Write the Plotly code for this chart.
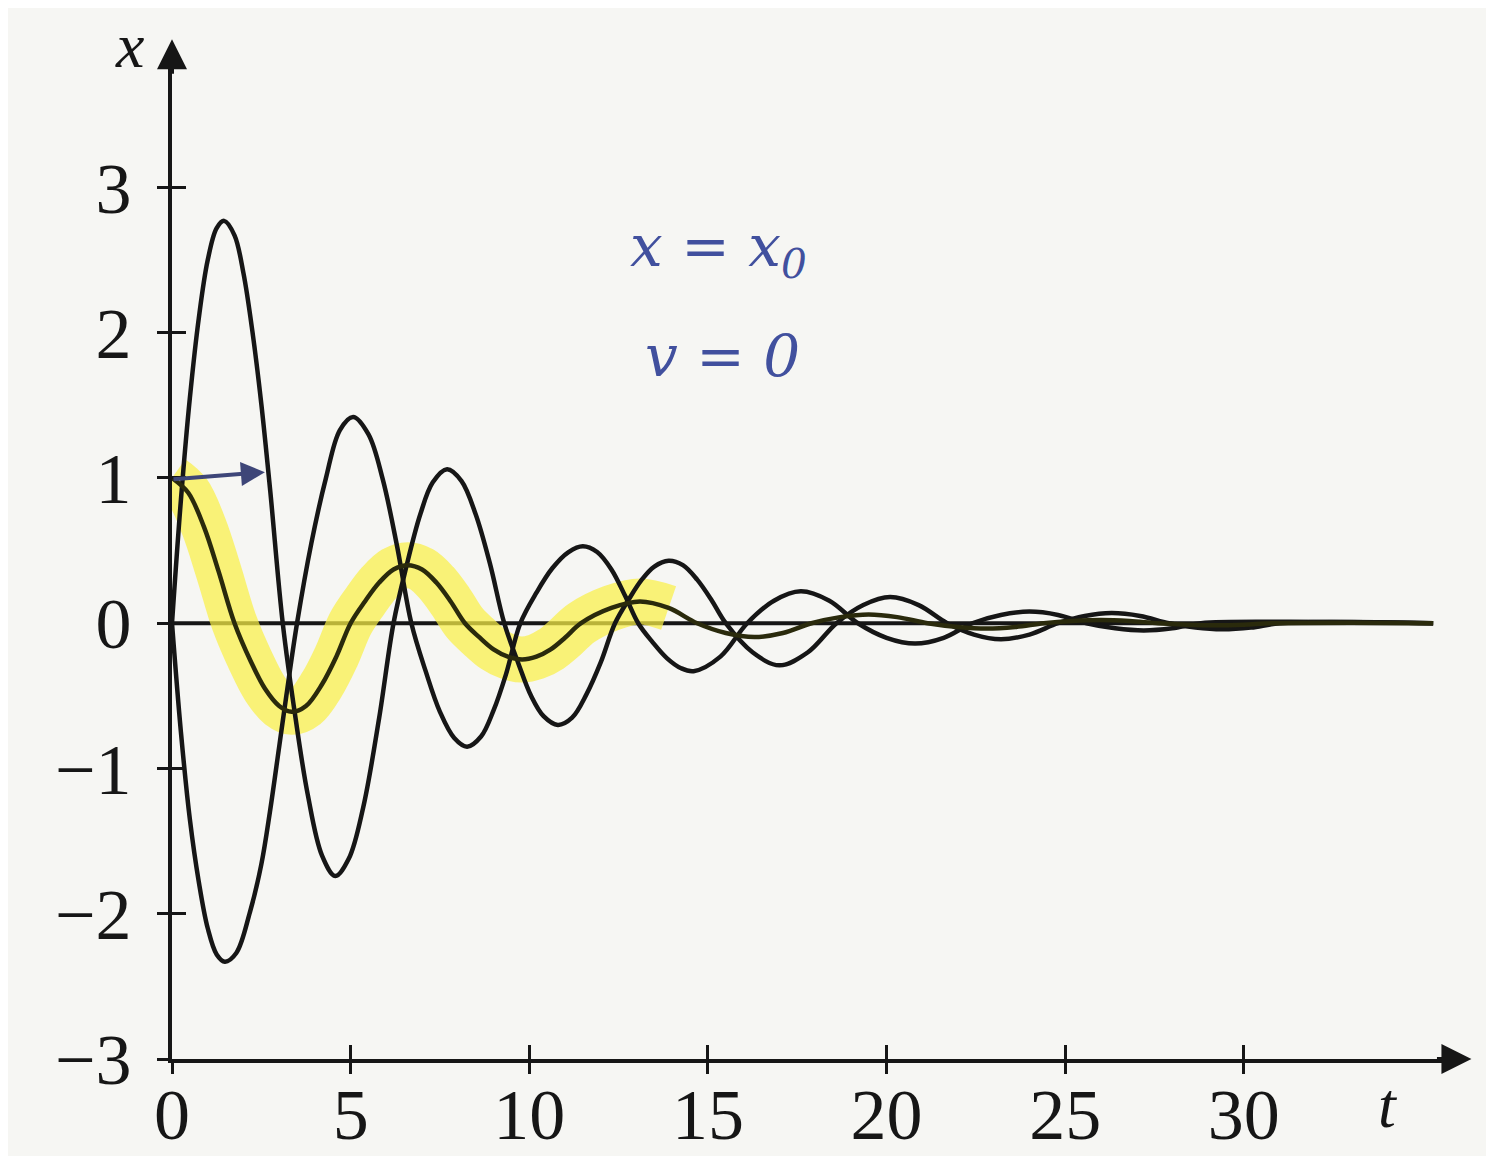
import plotly.graph_objects as go

# ---- data ----
# curve A : x(0)=1, v(0)=0 (highlighted)
tA = [0, 0.45, 0.9, 1.3, 1.75, 2.2, 2.6, 3.0, 3.35, 3.75, 4.2, 4.6, 5.0, 5.4, 5.8, 6.2, 6.6,
      7.0, 7.4, 7.8, 8.2, 8.6, 9.0, 9.4, 9.8, 10.2, 10.6, 11.0, 11.45, 12.3, 13.1, 13.9, 14.7,
      15.5, 16.3, 17.1, 17.9, 18.7, 19.5, 20.3, 21.15, 22.0, 22.8, 23.6, 24.4, 25.2, 26.0,
      26.8, 27.6, 28.4, 29.2, 30.0, 30.8, 33.0, 35.3]
xA = [1.0, 0.9, 0.66, 0.36, 0.0, -0.26, -0.45, -0.57, -0.61, -0.57, -0.42, -0.23, 0.0, 0.15,
      0.28, 0.37, 0.40, 0.37, 0.28, 0.15, 0.0, -0.096, -0.18, -0.23, -0.25, -0.23, -0.18,
      -0.10, 0.0, 0.105, 0.15, 0.105, 0.0, -0.067, -0.095, -0.067, 0.0, 0.042, 0.06, 0.042,
      0.0, -0.026, -0.037, -0.026, 0.0, 0.016, 0.023, 0.016, 0.0, -0.01, -0.014, -0.01, 0.0,
      0.004, 0.0]

# curve B : starts upward
tB = [0, 0.25, 0.5, 0.75, 1.0, 1.25, 1.46, 1.75, 2.0, 2.25, 2.5, 2.75, 3.1, 3.45, 3.8, 4.2,
      4.57, 4.95, 5.35, 5.8, 6.2, 6.55, 6.95, 7.3, 7.7, 8.1, 8.5, 8.9, 9.3, 9.7, 10.05, 10.4,
      10.8, 11.2, 11.6, 12.0, 12.4, 12.8, 13.15, 13.5, 13.9, 14.3, 14.7, 15.1, 15.5, 16.25,
      17.0, 17.8, 18.6, 19.35, 20.1, 20.9, 21.7, 22.45, 23.2, 24.0, 24.8, 25.55, 26.3, 27.1,
      27.9, 28.65, 29.4, 30.2, 31.0, 33.0, 35.3]
xB = [0.0, 0.85, 1.55, 2.1, 2.5, 2.72, 2.77, 2.67, 2.41, 2.01, 1.51, 0.91, 0.0, -0.64, -1.18,
      -1.6, -1.74, -1.62, -1.27, -0.65, 0.0, 0.38, 0.75, 0.97, 1.06, 0.98, 0.75, 0.41, 0.0,
      -0.28, -0.5, -0.64, -0.70, -0.65, -0.49, -0.27, 0.0, 0.17, 0.30, 0.39, 0.43, 0.40, 0.30,
      0.16, 0.0, -0.2, -0.29, -0.2, 0.0, 0.125, 0.18, 0.125, 0.0, -0.078, -0.11, -0.078, 0.0,
      0.05, 0.07, 0.05, 0.0, -0.03, -0.042, -0.03, 0.0, 0.008, 0.0]

# curve C : starts downward
tC = [0, 0.25, 0.5, 0.75, 1.0, 1.25, 1.48, 1.8, 2.18, 2.5, 2.74, 3.0, 3.2, 3.5, 3.9, 4.3, 4.7,
      5.07, 5.5, 5.9, 6.3, 6.7, 7.1, 7.5, 7.9, 8.26, 8.65, 9.0, 9.35, 9.75, 10.2, 10.65, 11.1,
      11.5, 11.9, 12.3, 12.7, 13.05, 13.45, 13.85, 14.25, 14.6, 15.35, 16.1, 16.85, 17.6,
      18.4, 19.2, 20.0, 20.8, 21.6, 22.4, 23.2, 24.0, 24.8, 25.6, 26.4, 27.2, 28.0, 28.8,
      31.0, 35.3]
xC = [0.0, -0.75, -1.35, -1.78, -2.1, -2.28, -2.33, -2.27, -1.99, -1.66, -1.3, -0.85, -0.5,
      0.0, 0.55, 0.99, 1.33, 1.42, 1.30, 0.99, 0.53, 0.0, -0.33, -0.61, -0.79, -0.85, -0.78,
      -0.60, -0.35, 0.0, 0.21, 0.38, 0.49, 0.53, 0.49, 0.37, 0.18, 0.0, -0.13, -0.24, -0.31,
      -0.33, -0.23, 0.0, 0.155, 0.22, 0.155, 0.0, -0.10, -0.14, -0.10, 0.0, 0.057, 0.08,
      0.057, 0.0, -0.035, -0.05, -0.035, 0.0, 0.01, 0.0]

tick_t = [0, 5, 10, 15, 20, 25, 30]
tick_x = [-3, -2, -1, 0, 1, 2, 3]

HIGHLIGHT_END = 14.0

FONT = "Liberation Serif"
INK = "#161616"

fig = go.Figure()

# yellow highlighter along curve A
tH = [t for t in tA if t <= HIGHLIGHT_END]
xH = xA[:len(tH)]
fig.add_trace(go.Scatter(x=tH, y=xH, mode="lines",
                         line=dict(color="rgba(250,240,70,0.72)", width=46, shape="spline"),
                         hoverinfo="skip", showlegend=False))

for tt, xx, col in [(tB, xB, INK), (tC, xC, INK), (tA, xA, "#2a2a0c")]:
    fig.add_trace(go.Scatter(x=tt, y=xx, mode="lines",
                             line=dict(color=col, width=4.5, shape="spline", smoothing=1.0),
                             showlegend=False))

# dummy trace for the overlaid (outside-tick) axes
fig.add_trace(go.Scatter(x=[None], y=[None], xaxis="x2", yaxis="y2", showlegend=False))

XR = [0, 35.8]
YR = [-3, 3.85]

fig.update_layout(
    width=1494, height=1156,
    margin=dict(l=164, r=51, t=56, b=105),
    paper_bgcolor="#f6f6f3", plot_bgcolor="rgba(0,0,0,0)",
    showlegend=False,
    xaxis=dict(range=XR, tickvals=tick_t, ticks="inside", ticklen=14, tickwidth=3,
               tickcolor=INK, showline=True, linecolor=INK, linewidth=4, showgrid=False,
               zeroline=False, automargin=False, ticklabelstandoff=-10,
               tickfont=dict(family=FONT, size=72, color=INK)),
    yaxis=dict(range=YR, tickvals=tick_x, ticks="inside", ticklen=14, tickwidth=3,
               tickcolor=INK, showline=True, linecolor=INK, linewidth=4, showgrid=False,
               zeroline=False, automargin=False, ticklabelstandoff=22,
               tickfont=dict(family=FONT, size=72, color=INK)),
    xaxis2=dict(range=XR, overlaying="x", anchor="y2", side="bottom", tickvals=tick_t,
                ticks="outside", ticklen=14, tickwidth=3, tickcolor=INK, automargin=False,
                showticklabels=False, showline=False, showgrid=False, zeroline=False),
    yaxis2=dict(range=YR, overlaying="y", anchor="x2", side="left", tickvals=tick_x,
                ticks="outside", ticklen=14, tickwidth=3, tickcolor=INK, automargin=False,
                showticklabels=False, showline=False, showgrid=False, zeroline=False),
)

# zero line
fig.add_shape(type="line", xref="x", yref="y", x0=0, x1=35.3, y0=0, y1=0,
              line=dict(color=INK, width=4), layer="below")

# axis arrowheads (paper coordinates, just past the axis ends)
fig.add_annotation(x=1.016, y=0, xref="paper", yref="paper", ax=-36, ay=0, text="",
                   showarrow=True, arrowhead=2, arrowsize=1.5, arrowwidth=4, arrowcolor=INK)
fig.add_annotation(x=0, y=1.025, xref="paper", yref="paper", ax=0, ay=36, text="",
                   showarrow=True, arrowhead=2, arrowsize=1.5, arrowwidth=4, arrowcolor=INK)

# axis titles
fig.add_annotation(x=-0.046, y=1.056, xref="paper", yref="paper", text="<i>x</i>",
                   showarrow=False, font=dict(family=FONT, size=64, color=INK))
fig.add_annotation(x=0.96, y=-0.084, xref="paper", yref="paper", text="<i>t</i>",
                   showarrow=False, font=dict(family=FONT, size=64, color=INK))

# handwritten notes
BLUE = "#41509e"
fig.add_annotation(x=15.3, y=2.57, xref="x", yref="y", text="<i>x = x<sub>0</sub></i>",
                   showarrow=False, font=dict(family="DejaVu Serif", size=58, color=BLUE))
fig.add_annotation(x=15.4, y=1.84, xref="x", yref="y", text="<i>v = 0</i>",
                   showarrow=False, font=dict(family="DejaVu Serif", size=58, color=BLUE))
# hand-drawn arrow at the start point
fig.add_annotation(x=2.6, y=1.04, xref="x", yref="y", ax=0.0, ay=0.99, axref="x", ayref="y",
                   text="", showarrow=True, arrowhead=2, arrowsize=1.2, arrowwidth=4,
                   arrowcolor="#3e4678")

fig.write_html("out.html")
